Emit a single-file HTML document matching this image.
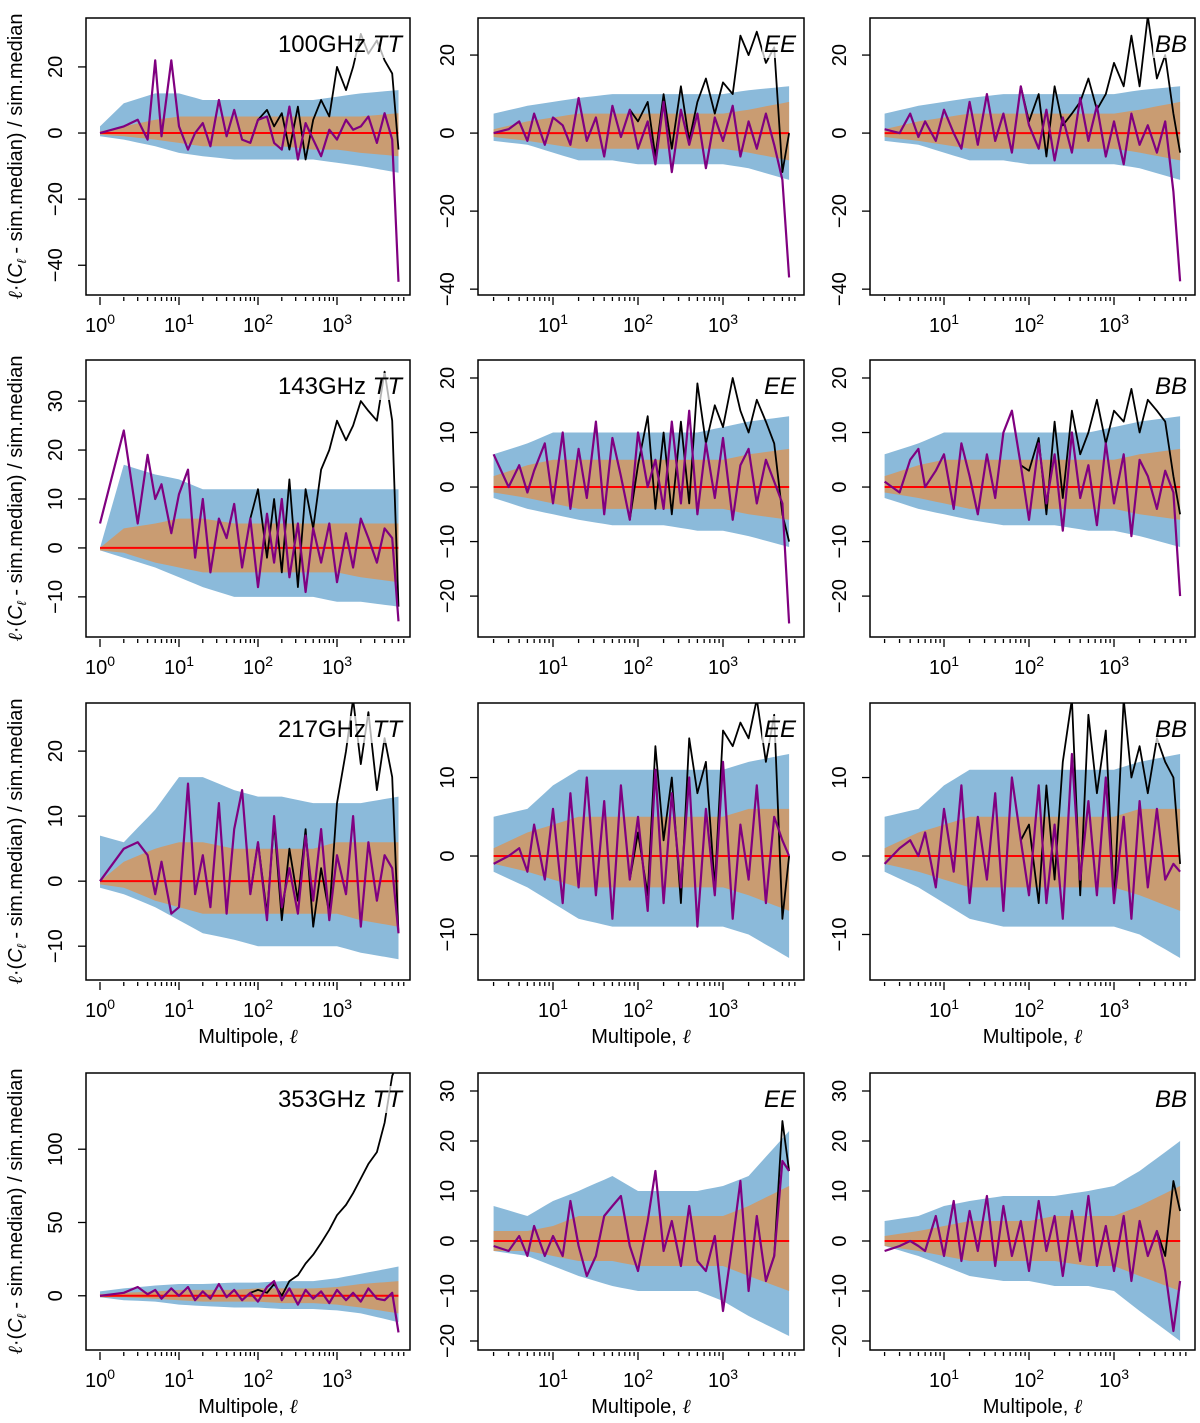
<!DOCTYPE html>
<html><head><meta charset="utf-8"><style>
html,body{margin:0;padding:0;background:#fff;}
svg{display:block;font-family:"Liberation Sans","DejaVu Sans",sans-serif;}
</style></head><body>
<svg id="chart" width="1200" height="1423" viewBox="0 0 1200 1423" xmlns="http://www.w3.org/2000/svg"></svg>
<script>
// multipole grid for lines
const ells = [1,2,3,4,5,6,8,10,13,16,20,25,32,40,50,63,80,100,130,160,200,250,320,400,500,630,800,1000,1300,1600,2000,2500,3200,4000,5000,6000];
// coarse multipole grid for bands
const bandElls = [1,2,5,10,20,50,100,200,500,1000,2000,6000];
const freqs = ["100GHz","143GHz","217GHz","353GHz"];
const specs = ["TT","EE","BB"];

const purple = [
 [0,2,4,-2,22,-1,22,2,-5,0,3,-4,10,-1,7,-2,-3,4,5,-3,-5,8,-8,3,-2,-7,1,-2,4,1,2,5,-3,6,-2,-45],
 [null,0,1,3,-2,5,-3,4,2,-3,9,-2,4,-6,7,-1,6,-4,3,-8,8,-10,6,-3,5,-9,4,-2,7,-6,3,-4,5,-3,-12,-37],
 [null,1,0,5,-1,3,-2,6,0,-4,8,-3,10,-2,5,-5,12,2,-4,6,-7,4,-5,9,-2,7,-6,3,-8,5,-3,2,-5,3,-15,-38],
 [5,24,5,19,10,13,3,11,16,-2,10,-5,6,2,9,-4,6,-8,7,-3,10,-6,5,-9,4,-3,5,-7,3,-4,6,2,-3,4,2,-15],
 [null,6,0,4,-1,3,8,-3,10,-4,7,-2,12,-5,9,2,-6,10,0,5,-4,12,-3,14,-5,8,-2,9,-6,4,7,-3,5,1,-3,-25],
 [null,1,-1,5,7,0,3,6,-4,8,2,-5,6,-2,10,14,4,-6,8,-3,6,-8,10,-2,4,-7,8,-3,6,-9,5,2,-4,3,-1,-20],
 [0,5,6,4,-2,3,-5,-4,15,-2,4,-4,12,-5,8,14,-2,6,-6,10,-4,2,-5,7,-3,8,-6,4,-2,10,-7,6,-3,4,2,-8],
 [null,-1,0,1,-2,4,-3,6,-6,8,-4,10,-5,7,-8,9,-3,5,-7,11,-6,8,-4,10,-9,6,-5,12,-8,4,-3,9,-6,5,2,0],
 [null,-1,1,2,0,3,-4,6,-2,9,-6,5,-3,8,-7,10,2,-5,9,-6,4,-8,13,-3,7,-5,10,-6,5,-8,7,-4,6,-3,-1,-2],
 [0,2,6,1,4,-2,5,0,6,-3,3,-2,8,-1,4,-3,2,-4,6,10,-3,5,-6,4,-2,3,-5,4,-3,2,-4,5,-2,-3,2,-25],
 [null,-1,-2,1,-3,3,-3,1,-3,8,-1,-7,-3,5,7,9,-1,-6,4,14,-2,4,-5,7,-4,-6,1,-14,0,12,-10,5,-8,-3,16,14],
 [null,-2,-1,0,-1,-2,5,-3,8,-4,6,-2,9,-5,7,-3,4,-6,8,-2,5,-7,6,-4,9,-5,3,-6,5,-8,4,-3,2,-6,-18,-8]
];
const N = null;
const black = [
 [N,N,N,N,N,N,N,N,N,N,N,N,N,N,N,N,N,4,7,2,6,-5,8,-8,4,10,5,20,13,20,30,24,28,22,18,-5],
 [N,N,N,N,N,N,N,N,N,N,N,N,N,N,N,N,N,3,8,-6,10,-4,12,-2,8,14,5,13,10,25,20,26,18,22,-10,0],
 [N,N,N,N,N,N,N,N,N,N,N,N,N,N,N,N,N,3,10,-6,12,2,5,8,14,6,10,18,12,25,12,30,14,20,5,-5],
 [N,N,N,N,N,N,N,N,N,N,N,N,N,N,N,N,N,12,-2,10,-5,14,-8,12,4,16,20,26,22,25,30,28,26,36,26,-12],
 [N,N,N,N,N,N,N,N,N,N,N,N,N,N,N,N,N,4,13,-4,10,-5,12,-3,19,8,15,11,20,14,10,16,12,8,-5,-10],
 [N,N,N,N,N,N,N,N,N,N,N,N,N,N,N,N,N,3,9,-5,12,-2,14,6,10,16,8,14,12,18,10,16,14,12,2,-5],
 [N,N,N,N,N,N,N,N,N,N,N,N,N,N,N,N,N,6,-5,9,-6,5,-3,8,-7,2,-5,12,20,28,18,26,14,22,16,-8],
 [N,N,N,N,N,N,N,N,N,N,N,N,N,N,N,N,N,3,-5,14,2,10,-6,15,8,12,-4,16,14,17,15,20,12,18,-8,0],
 [N,N,N,N,N,N,N,N,N,N,N,N,N,N,N,N,N,4,-6,9,-3,12,20,-5,18,8,16,-6,20,10,14,8,15,12,10,-1],
 [N,N,N,N,N,N,N,N,N,N,N,N,N,N,N,N,N,4,2,8,0,10,14,22,28,36,45,55,62,70,80,90,98,118,150,160],
 [N,N,N,N,N,N,N,N,N,N,N,N,N,N,N,N,N,N,N,N,N,N,N,N,N,N,N,N,N,N,N,N,N,-3,24,14],
 [N,N,N,N,N,N,N,N,N,N,N,N,N,N,N,N,N,N,N,N,N,N,N,N,N,N,N,N,N,N,N,N,N,-3,12,6]
];
const blueHi = [
 [2,9,12,12,10,10,10,10,10,11,12,13],[N,5,7,8,9,10,10,10,10,10,11,12],[N,5,7,8,9,10,10,10,10,10,11,12],
 [0,17,15,14,12,12,12,12,12,12,12,12],[N,6,8,10,10,10,10,10,10,11,12,13],[N,6,8,10,10,10,10,10,10,11,12,13],
 [7,6,11,16,16,14,13,13,12,12,12,13],[N,5,6,9,11,11,11,11,11,11,12,13],[N,5,6,9,11,11,11,11,11,11,12,13],
 [3,5,7,8,8,9,9,10,10,12,15,20],[N,7,5,8,10,13,10,10,10,11,13,22],[N,4,5,7,8,9,9,9,10,11,14,20]
];
const blueLo = [
 [-1,-2,-4,-6,-7,-8,-8,-8,-8,-9,-10,-12],[N,-2,-3,-5,-7,-7,-8,-8,-8,-8,-9,-12],[N,-2,-3,-5,-7,-7,-8,-8,-8,-8,-9,-12],
 [-0.5,-2,-4,-6,-8,-10,-10,-10,-10,-11,-11,-12],[N,-2,-4,-5,-6,-7,-7,-7,-8,-8,-9,-11],[N,-2,-4,-5,-6,-7,-7,-7,-8,-8,-9,-11],
 [-1,-2,-4,-6,-8,-9,-10,-10,-10,-10,-11,-12],[N,-2,-4,-6,-8,-9,-9,-9,-9,-9,-10,-13],[N,-2,-4,-6,-8,-9,-9,-9,-9,-9,-10,-13],
 [-1,-3,-4,-6,-7,-8,-8,-9,-9,-10,-12,-18],[N,-2,-3,-5,-7,-9,-10,-10,-10,-12,-15,-19],[N,-1,-3,-5,-7,-8,-8,-9,-9,-10,-14,-20]
];
const orHi = [
 [0.5,2,4,5,5,5,5,5,5,5,5,6],[N,1,3,4,5,5,5,5,5,5,6,8],[N,1,3,4,5,5,5,5,5,5,6,8],
 [0,4,5,6,6,5,5,5,5,5,5,5],[N,2,4,5,5,5,5,5,5,5,6,7],[N,2,4,5,5,5,5,5,5,5,6,7],
 [0,3,5,6,6,5,5,5,5,6,6,6],[N,1,3,4,5,5,5,5,5,5,6,6],[N,1,3,4,5,5,5,5,5,5,6,6],
 [1,2,3,4,4,4,5,5,5,6,8,10],[N,2,2,3,5,5,5,5,5,5,7,11],[N,1,2,3,4,4,4,5,5,5,7,11]
];
const orLo = [
 [-0.5,-1,-2,-3,-4,-4,-4,-4,-5,-5,-6,-7],[N,-1,-2,-3,-4,-4,-4,-4,-4,-4,-5,-7],[N,-1,-2,-3,-4,-4,-4,-4,-4,-4,-5,-7],
 [-0.5,-1,-3,-4,-5,-5,-5,-5,-5,-5,-6,-7],[N,-1,-2,-3,-4,-4,-4,-4,-4,-4,-5,-6],[N,-1,-2,-3,-4,-4,-4,-4,-4,-4,-5,-6],
 [-0.5,-1,-3,-4,-5,-5,-5,-5,-5,-5,-6,-7],[N,-1,-2,-3,-4,-4,-4,-4,-4,-4,-5,-7],[N,-1,-2,-3,-4,-4,-4,-4,-4,-4,-5,-7],
 [-1,-1,-2,-3,-4,-4,-4,-5,-5,-6,-8,-12],[N,-2,-2,-3,-4,-4,-5,-5,-5,-5,-7,-10],[N,-1,-2,-3,-4,-4,-4,-4,-5,-5,-7,-10]
];
const yDomains = [[-49,34.8],[-41.5,29.5],[-41.5,29.5],[-18.2,38.4],[-27.5,23.3],[-27.5,23.3],[-15.2,27.4],[-15.8,19.5],[-15.8,19.5],[-37,152],[-21.8,33.6],[-21.8,33.6]];
const yTicks = [[-40,-20,0,20],[-40,-20,0,20],[-40,-20,0,20],[-10,0,10,20,30],[-20,-10,0,10,20],[-20,-10,0,10,20],[-10,0,10,20],[-10,0,10],[-10,0,10],[0,50,100],[-20,-10,0,10,20,30],[-20,-10,0,10,20,30]];

const NS = "http://www.w3.org/2000/svg";
const svg = document.getElementById('chart');
function mk(tag, attrs, parent){ const e=document.createElementNS(NS,tag); for(const k in attrs) e.setAttribute(k,attrs[k]); (parent||svg).appendChild(e); return e; }

const colLeft=[86,478,870], colRight=[410,804,1195];
const colDec0=[100,553-85,944-85], colPPD=[79,85,85];
const rowTop=[18,360,703,1073], rowBot=[295,637,980,1350];

function interpBand(arr, l){
  const ll=Math.log10(l);
  for(let i=0;i<bandElls.length-1;i++){
    const a=Math.log10(bandElls[i]), b=Math.log10(bandElls[i+1]);
    if(ll>=a && ll<=b){
      const va=arr[i]==null?arr[i+1]:arr[i];
      return va+(arr[i+1]-va)*(ll-a)/(b-a);
    }
  }
  return arr[arr.length-1];
}

for(let r=0;r<4;r++){
 for(let c=0;c<3;c++){
  const p=r*3+c;
  const L=colLeft[c], R=colRight[c], T=rowTop[r], B=rowBot[r];
  const [ymin,ymax]=yDomains[p];
  const xs=l=>colDec0[c]+colPPD[c]*Math.log10(l);
  const ys=v=>B-(v-ymin)/(ymax-ymin)*(B-T);
  const g=mk('g',{});
  
  
  const cid='clip'+p;
  const cp=mk('clipPath',{id:cid},g); mk('rect',{x:L,y:T,width:R-L,height:B-T},cp);
  const pg=mk('g',{'clip-path':'url(#'+cid+')'},g);
  const lStart = c===0?1:2;
  const sample=[]; for(const l of ells) if(l>=lStart) sample.push(l);
  function band(hi,lo,color,name){
    let d='';
    sample.forEach((l,i)=>{d+=(i?'L':'M')+xs(l).toFixed(1)+','+ys(interpBand(hi,l)).toFixed(1);});
    for(let i=sample.length-1;i>=0;i--){ d+='L'+xs(sample[i]).toFixed(1)+','+ys(interpBand(lo,sample[i])).toFixed(1);}
    const e=mk('path',{d:d+'Z',fill:color,stroke:'none'},pg);
    
    
  }
  band(blueHi[p],blueLo[p],'#8bbada','band-2sigma');
  band(orHi[p],orLo[p],'#c99c72','band-1sigma');
  const zl=mk('line',{x1:xs(lStart),x2:xs(6000),y1:ys(0),y2:ys(0),stroke:'#ff0000','stroke-width':2},pg);
  
  
  function series(vals,color,w,name,fallback){
    let d='',pen=false;
    ells.forEach((l,i)=>{
      let v=vals[i];
      if(v==null && fallback){ if(vals[i+1]!=null) v=fallback[i]; }
      if(v==null){pen=false;return;}
      d+=(pen?'L':'M')+xs(l).toFixed(1)+','+ys(v).toFixed(1); pen=true;
    });
    const e=mk('path',{d:d,fill:'none',stroke:color,'stroke-width':w,'stroke-linejoin':'round'},pg);
    
    
  }
  series(black[p],'#000000',1.8,'series-black',purple[p]);
  series(purple[p],'#800080',2.2,'series-purple');
  // label with translucent background
  const bg=mk('rect',{fill:'#ffffff','fill-opacity':0.7,stroke:'none'},g);
  
  
  const lab=mk('text',{x:R-8,y:T+34,'text-anchor':'end','font-size':24,fill:'#000'},g);
  
  
  if(c===0){ const t1=mk('tspan',{},lab); t1.textContent=freqs[r]+' '; }
  const t2=mk('tspan',{'font-style':'italic'},lab); t2.textContent=specs[c];
  try{ const bb=lab.getBBox(); bg.setAttribute('x',bb.x-2); bg.setAttribute('y',bb.y); bg.setAttribute('width',bb.width+4); bg.setAttribute('height',bb.height); }catch(e){}
  // box
  const bx=mk('rect',{x:L,y:T,width:R-L,height:B-T,fill:'none',stroke:'#000','stroke-width':1.5},g);
  
  
  // x ticks
  const xa=mk('g',{},g);
  
  
  for(let dec=0;dec<4;dec++){
    for(let m=1;m<10;m++){
      const l=m*Math.pow(10,dec);
      if(l<lStart||l>7000) continue;
      const x=xs(l), len=m===1?8:4;
      mk('line',{x1:x,x2:x,y1:B+2,y2:B+2+len,stroke:'#000','stroke-width':1.3},xa);
    }
    if(Math.pow(10,dec)>=lStart){
      const t=mk('text',{x:xs(Math.pow(10,dec)),y:B+37,'text-anchor':'middle','font-size':20},xa);
      t.textContent='10';
      const s=mk('tspan',{dy:-8,'font-size':14},t); s.textContent=String(dec);
    }
  }
  if(r>=2){
    const xt=mk('text',{x:(L+R)/2,y:B+63,'text-anchor':'middle','font-size':20},g);
    xt.textContent='Multipole, ';
    const ti=mk('tspan',{'font-style':'italic','font-family':'DejaVu Serif, serif'},xt); ti.textContent='ℓ';
    
    
  }
  // y ticks
  const ya=mk('g',{},g);
  
  
  for(const v of yTicks[p]){
    const y=ys(v);
    mk('line',{x1:L-8,x2:L,y1:y,y2:y,stroke:'#000','stroke-width':1.3},ya);
    const t=mk('text',{x:L-24,y:y,'text-anchor':'middle','font-size':20,transform:'rotate(-90 '+(L-24)+' '+y+')'},ya);
    t.textContent=(v<0?'−':'')+Math.abs(v);
  }
  if(c===0){
    const cy=(T+B)/2;
    const yt=mk('text',{x:22,y:cy,'text-anchor':'middle','font-size':20,transform:'rotate(-90 22 '+cy+')'},g);
    
    
    const a=mk('tspan',{'font-style':'italic','font-family':'DejaVu Serif, serif'},yt); a.textContent='ℓ';
    const b=mk('tspan',{},yt); b.textContent='·(';
    const cC=mk('tspan',{'font-style':'italic'},yt); cC.textContent='C';
    const sub=mk('tspan',{'font-size':13,dy:4,'font-style':'italic'},yt); sub.textContent='ℓ';
    const rest=mk('tspan',{dy:-4},yt); rest.textContent=' - sim.median) / sim.median';
  }
 }
}
</script>
</body></html>
